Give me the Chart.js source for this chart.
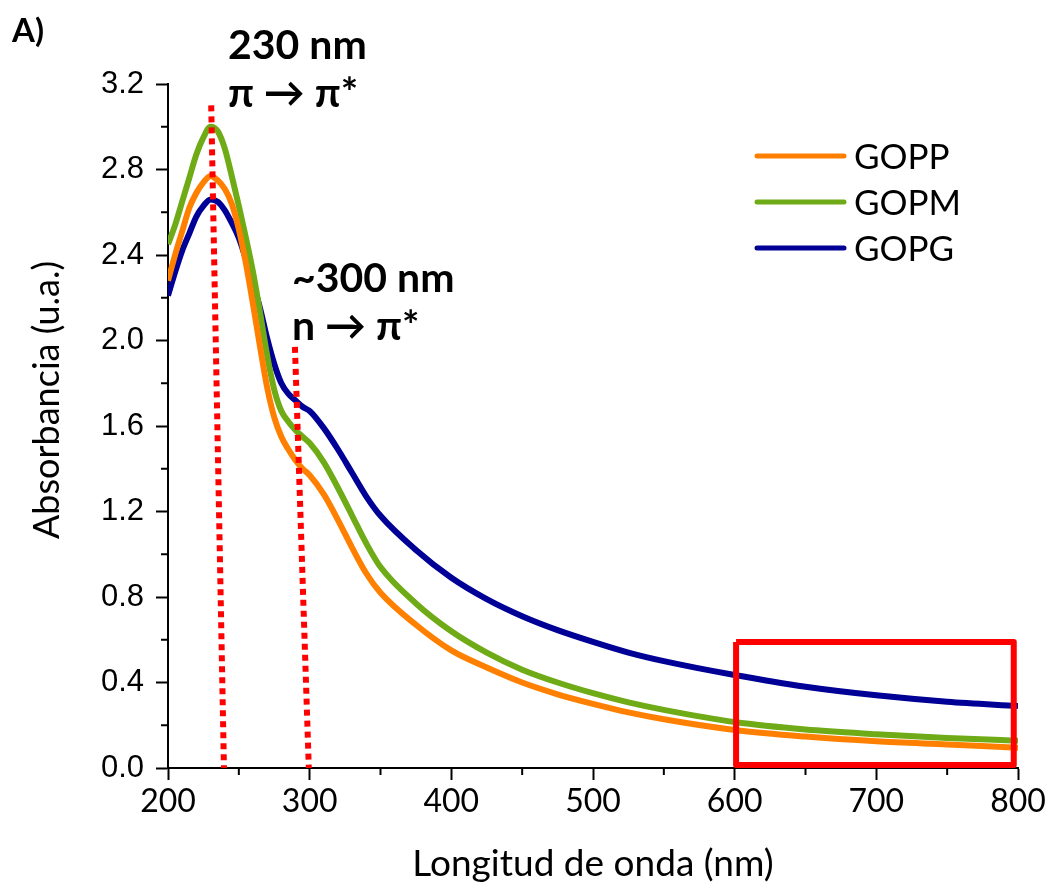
<!DOCTYPE html>
<html>
<head>
<meta charset="utf-8">
<script src="https://cdn.jsdelivr.net/npm/chart.js@4.4.1/dist/chart.umd.min.js"></script>
<style>
  html, body { margin: 0; padding: 0; background: #fff; }
  #wrap { width: 1049px; height: 888px; position: relative; }
</style>
</head>
<body>
<div id="wrap"><canvas id="chart" width="1049" height="888"></canvas></div>
<script>
// UV-vis spectra of GOPP / GOPM / GOPG

const wavelengths = [200, 205, 210, 215, 220, 225, 230, 235, 240, 245, 250, 255, 260, 265, 270, 275, 280, 285, 290, 295,
  300, 310, 320, 330, 340, 350, 375, 400, 425, 450, 475, 500, 525, 550, 600, 650, 700, 750, 800];

const gopp = [2.28, 2.40, 2.51, 2.62, 2.69, 2.74, 2.77, 2.75, 2.71, 2.64, 2.52, 2.36, 2.17, 1.97, 1.78, 1.64, 1.55, 1.49, 1.44, 1.40,
  1.37, 1.28, 1.16, 1.03, 0.91, 0.82, 0.67, 0.55, 0.47, 0.40, 0.345, 0.30, 0.26, 0.228, 0.178, 0.147, 0.125, 0.11, 0.095];

const gopm = [2.45, 2.54, 2.65, 2.76, 2.87, 2.95, 3.00, 2.98, 2.90, 2.77, 2.63, 2.48, 2.32, 2.13, 1.93, 1.77, 1.67, 1.62, 1.58, 1.55,
  1.52, 1.43, 1.31, 1.18, 1.05, 0.94, 0.77, 0.64, 0.54, 0.46, 0.40, 0.35, 0.307, 0.272, 0.215, 0.18, 0.158, 0.14, 0.128];

const gopg = [2.21, 2.32, 2.42, 2.50, 2.58, 2.63, 2.66, 2.65, 2.61, 2.55, 2.48, 2.38, 2.27, 2.15, 2.01, 1.89, 1.80, 1.75, 1.72, 1.69,
  1.67, 1.59, 1.49, 1.38, 1.27, 1.18, 1.02, 0.89, 0.79, 0.71, 0.645, 0.59, 0.54, 0.50, 0.435, 0.38, 0.34, 0.31, 0.29];

const seriesNames = ["GOPP", "GOPM", "GOPG"];

// dotted marker lines (pi->pi* and n->pi*)
const marker1X = [230.5, 239.5];
const marker1Y = [3.10, 0];
const marker2X = [289.6, 299.4];
const marker2Y = [1.97, 0];

// highlight box over 600-800 nm
const boxX = [601, 797, 797, 601, 601];
const boxY = [0.59, 0.59, 0.014, 0.014, 0.59];

const xTicks = [200, 300, 400, 500, 600, 700, 800];
const yTicks = [0.0, 0.4, 0.8, 1.2, 1.6, 2.0, 2.4, 2.8, 3.2];

const ORANGE = "#ff8000";
const GREEN = "#6fab16";
const BLUE = "#000096";
const RED = "#ff0000";

function toPoints(xs, ys) {
  return xs.map((x, i) => ({ x: x, y: ys[i] }));
}

// minor ticks, free text and legend
const extrasPlugin = {
  id: "extras",
  afterDraw(chart) {
    const ctx = chart.ctx;
    const xs = chart.scales.x;
    const ys = chart.scales.y;
    const area = chart.chartArea;
    ctx.save();
    ctx.strokeStyle = "#000";
    ctx.lineWidth = 2;
    // minor ticks
    for (let v = 250; v < 800; v += 100) {
      const px = xs.getPixelForValue(v);
      ctx.beginPath();
      ctx.moveTo(px, area.bottom);
      ctx.lineTo(px, area.bottom + 7);
      ctx.stroke();
    }
    for (let v = 0.2; v < 3.2; v += 0.4) {
      const py = ys.getPixelForValue(v);
      ctx.beginPath();
      ctx.moveTo(area.left, py);
      ctx.lineTo(area.left - 7, py);
      ctx.stroke();
    }

    // legend
    const colors = [ORANGE, GREEN, BLUE];
    ctx.font = "35px Lato";
    ctx.textBaseline = "middle";
    ctx.textAlign = "left";
    ctx.lineCap = "round";
    seriesNames.forEach((name, i) => {
      const y = 156 + i * 46;
      ctx.strokeStyle = colors[i];
      ctx.lineWidth = 5;
      ctx.beginPath();
      ctx.moveTo(757, y);
      ctx.lineTo(844, y);
      ctx.stroke();
      ctx.fillStyle = "#000";
      ctx.fillText(name, 854, y + 2);
    });

    // y axis title
    ctx.save();
    ctx.translate(47, 400);
    ctx.rotate(-Math.PI / 2);
    ctx.textAlign = "center";
    ctx.textBaseline = "middle";
    ctx.font = "36px Lato";
    ctx.fillText("Absorbancia (u.a.)", 0, 0);
    ctx.restore();

    // annotations
    ctx.fillStyle = "#000";
    ctx.textBaseline = "alphabetic";
    ctx.textAlign = "left";
    ctx.font = "bold 41px Lato";
    ctx.fillText("230 nm", 228, 59);
    ctx.fillText("\u03c0 \u2192 \u03c0*", 228, 107);
    ctx.fillText("~300 nm", 292, 292);
    ctx.fillText("n \u2192 \u03c0*", 292, 340);
    ctx.font = "bold 33px Lato";
    ctx.fillText("A)", 12, 42);
    ctx.restore();
  },
};

const spectrum = (label, data, color) => ({
  label: label,
  data: toPoints(wavelengths, data),
  borderColor: color,
  backgroundColor: color,
  borderWidth: 6,
  pointRadius: 0,
  cubicInterpolationMode: "monotone",
  order: 2,
});

const dotted = (xs, ys) => ({
  label: "marker",
  data: toPoints(xs, ys),
  borderColor: RED,
  borderWidth: 6,
  borderDash: [6, 5],
  pointRadius: 0,
  order: 1,
});

new Chart(document.getElementById("chart").getContext("2d"), {
  type: "line",
  data: {
    datasets: [
      spectrum(seriesNames[0], gopp, ORANGE),
      spectrum(seriesNames[1], gopm, GREEN),
      spectrum(seriesNames[2], gopg, BLUE),
      dotted(marker1X, marker1Y),
      dotted(marker2X, marker2Y),
      {
        label: "box",
        data: toPoints(boxX, boxY),
        borderColor: RED,
        borderWidth: 6,
        pointRadius: 0,
        borderJoinStyle: "round",
        order: 0,
      },
    ],
  },
  options: {
    responsive: false,
    animation: false,
    layout: { padding: { left: 0, right: 31, top: 84, bottom: 0 } },
    plugins: {
      legend: { display: false },
      tooltip: { enabled: false },
    },
    scales: {
      x: {
        type: "linear",
        min: 200,
        max: 800,
        afterFit: (s) => { s.height = 120; },
        afterBuildTicks: (s) => { s.ticks = xTicks.map((v) => ({ value: v })); },
        ticks: {
          color: "#000",
          font: { family: "Lato", size: 32 },
          padding: 2,
          maxRotation: 0,
        },
        grid: { display: true, drawOnChartArea: false, tickLength: 12, tickColor: "#000", tickWidth: 2 },
        border: { color: "#000", width: 2 },
        title: {
          display: true,
          text: "Longitud de onda (nm)",
          color: "#000",
          font: { family: "Lato", size: 37 },
          padding: { top: 0, bottom: 2 },
        },
      },
      y: {
        min: 0,
        max: 3.2,
        afterFit: (s) => { s.width = 168; },
        afterBuildTicks: (s) => { s.ticks = yTicks.map((v) => ({ value: v })); },
        ticks: {
          color: "#000",
          font: { family: "Liberation Sans", size: 31 },
          padding: 12,
          callback: (v) => v.toFixed(1),
        },
        grid: { display: true, drawOnChartArea: false, tickLength: 12, tickColor: "#000", tickWidth: 2 },
        border: { color: "#000", width: 2 },
      },
    },
  },
  plugins: [extrasPlugin],
});
</script>
</body>
</html>
